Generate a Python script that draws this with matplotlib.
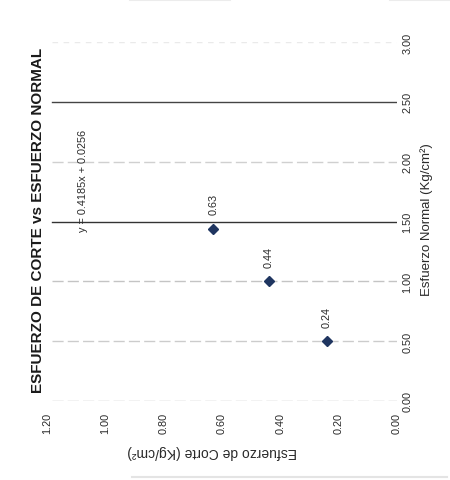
import matplotlib
matplotlib.use("Agg")
import matplotlib.pyplot as plt
from matplotlib.lines import Line2D

# data (chart is printed rotated 90 deg counter-clockwise)
esfuerzo_normal = [0.50, 1.00, 1.44]
esfuerzo_corte = [0.24, 0.44, 0.63]
point_labels = ["0.24", "0.44", "0.63"]
normal_ticks = [0.0, 0.5, 1.0, 1.5, 2.0, 2.5, 3.0]
corte_ticks = [0.0, 0.2, 0.4, 0.6, 0.8, 1.0, 1.2]
equation = "y = 0.4185x + 0.0256"
title = "ESFUERZO DE CORTE vs ESFUERZO NORMAL"
xlabel = "Esfuerzo Normal (Kg/cm²)"
ylabel = "Esfuerzo de Corte (Kg/cm²)"

plt.rcParams['font.family'] = ['Liberation Sans', 'DejaVu Sans']

W, H = 450, 481
fig = plt.figure(figsize=(W / 100, H / 100), dpi=100)

# horizontal axis = esfuerzo de corte (inverted), vertical = esfuerzo normal
ax = fig.add_axes([47 / W, 1 - 402 / H, 350 / W, 359 / H])
ax.set_xlim(1.2, 0.0)
ax.set_ylim(0.0, 3.0)
for s in ax.spines.values():
    s.set_visible(False)

ax.set_xticks(corte_ticks)
ax.set_xticklabels(["%.2f" % t for t in corte_ticks])
ax.set_yticks(normal_ticks)
ax.set_yticklabels(["%.2f" % t for t in normal_ticks])
ax.yaxis.tick_right()
ax.tick_params(axis='x', length=0, labelrotation=90, labelsize=7.8,
               pad=8, colors='#2a2a2a')
ax.tick_params(axis='y', length=0, labelrotation=90, labelsize=7.8,
               pad=4, colors='#2a2a2a')
for lab in ax.get_yticklabels():
    lab.set_verticalalignment('center')

# gridlines, faded like the scan
grid_colors = ['#bdbdbd', '#cccccc', '#c4c4c4', '#333333',
               '#d0d0d0', '#444444', '#eaeaea']
grid_styles = [(0, (8, 3)), (0, (8, 3)), (0, (8, 3)), '-',
               (0, (8, 3)), '-', (0, (4, 4))]
for t, c, ls in zip(normal_ticks, grid_colors, grid_styles):
    ax.axhline(t, xmin=0.015, xmax=1.0, color=c, lw=1.0, ls=ls, zorder=1)

ax.plot(esfuerzo_corte, esfuerzo_normal, 'D', color='#1f3560',
        markersize=5, zorder=3)
for xv, yv, lab in zip(esfuerzo_normal, esfuerzo_corte, point_labels):
    ax.annotate(lab, (yv, xv), xytext=(0, 18), textcoords='offset points',
                rotation=90, ha='center', va='center', fontsize=7.8,
                color='#2a2a2a')

ax.text(1.075, 1.85, equation, rotation=90, ha='center', va='center',
        fontsize=7.8, color='#2a2a2a')

fig.text(38 / W, 1 - 220 / H, title, rotation=90, ha='center', va='center',
         fontsize=11, fontweight='bold', color='#1a1a1a')
fig.text(427 / W, 1 - 220 / H, xlabel, rotation=90, ha='center',
         va='center', fontsize=9.5, color='#2a2a2a')
fig.text(212 / W, 1 - 452 / H, ylabel, rotation=180, ha='center',
         va='center', fontsize=10, color='#2a2a2a')

# scan edge marks
fig.add_artist(Line2D([132 / W, 447 / W], [1 - 478 / H, 1 - 478 / H],
                      color='#e4e4e4', lw=1.5))
fig.add_artist(Line2D([130 / W, 230 / W], [0.998, 0.998],
                      color='#ececec', lw=1.5))
fig.add_artist(Line2D([390 / W, 450 / W], [0.998, 0.998],
                      color='#ececec', lw=1.5))

fig.savefig("out.png", dpi=100)
